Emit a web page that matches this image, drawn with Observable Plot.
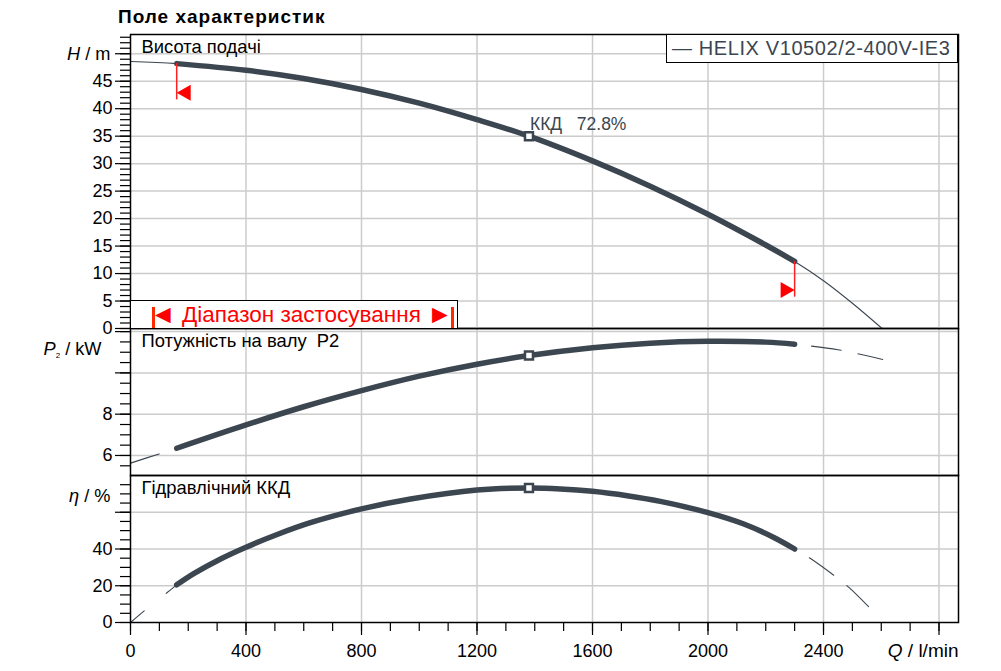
<!DOCTYPE html>
<html><head><meta charset="utf-8">
<script src="https://cdn.jsdelivr.net/npm/d3@7"></script>
<script src="https://cdn.jsdelivr.net/npm/@observablehq/plot@0.6"></script>
<style>
body{margin:0;background:#fff;font-family:"Liberation Sans",Arial,sans-serif;}
#wrap{position:relative;width:1001px;height:671px;overflow:hidden;background:#fff;}
#wrap svg{position:absolute;left:0;}
.title{position:absolute;left:118px;top:7px;font-weight:bold;font-size:19px;letter-spacing:1px;line-height:1;color:#000;z-index:5;white-space:nowrap;}
.legend{position:absolute;left:666px;top:34px;width:292px;height:29px;box-sizing:border-box;border:1.5px solid #000;background:#fff;z-index:5;color:#3c4650;font-size:20px;letter-spacing:0.6px;line-height:27px;padding-left:5px;white-space:nowrap;}
.range{position:absolute;left:130px;top:300px;width:328px;height:29px;box-sizing:border-box;border:1.5px solid #000;background:#fff;z-index:5;}
.range .bar{position:absolute;top:6px;width:2.5px;height:21px;background:#ff2a00;}
.range .txt{position:absolute;left:19px;top:2px;color:#ff0000;font-size:22.5px;line-height:24px;white-space:pre;}
.range .txt .arr{font-size:26px;line-height:0;vertical-align:-1px;}
</style>
</head><body>
<div id="wrap"></div>
<script>
// ---------- data ----------
const chartTitle = "Поле характеристик";
const legendLabel = "— HELIX V10502/2-400V-IE3";
const rangeArrows = ["◄", "►"];
const rangeLabel = "Діапазон застосування";
const panelLabels = ["Висота подачі", "Потужність на валу  P2", "Гідравлічний ККД"];
const bepLabel = "ККД   72.8%";

// Head curve H (m) vs Q (l/min)
const hQ = [0, 160, 400, 600, 800, 1000, 1200, 1380, 1600, 1800, 2000, 2200, 2300, 2400, 2500, 2603];
const hH = [48.6, 48.2, 47.0, 45.5, 43.5, 41.0, 38.0, 35.0, 30.5, 25.9, 20.8, 15.2, 12.2, 8.7, 4.6, 0];

// Shaft power P2 (kW)
const pQ = [0, 100, 160, 400, 600, 800, 1000, 1200, 1380, 1600, 1800, 2000, 2200, 2300, 2450, 2605];
const pP = [5.63, 6.08, 6.35, 7.48, 8.36, 9.14, 9.84, 10.42, 10.84, 11.22, 11.44, 11.53, 11.49, 11.39, 11.12, 10.65];

// Hydraulic efficiency (%)
const eQ = [0, 48, 127, 160, 219, 312, 400, 508, 623, 800, 970, 1200, 1380, 1489, 1600, 1720, 1835, 2000, 2124, 2228, 2300, 2355, 2442, 2488, 2563];
const eE = [0, 6.4, 16.3, 20.5, 26.6, 34.6, 41.0, 47.9, 54.3, 61.8, 67.2, 72.1, 73.2, 72.7, 71.4, 69.0, 65.9, 59.8, 53.6, 46.3, 40.0, 34.8, 24.9, 19.1, 7.5];

// Operating range and best efficiency point
const rangeQ = [160, 2300];
const markerTop = [48.2, 12.2];
const markerBottom = [41.6, 5.7];
const markerArrow = [42.9, 7.0];
const bepQ = 1380, bepH = 35.0, bepP = 10.84, bepE = 73.2;

// Ticks
const xMajor = [0, 400, 800, 1200, 1600, 2000, 2400, 2800];
const xMinor = d3.range(0, 2801, 100);
const hMajor = [0, 5, 10, 15, 20, 25, 30, 35, 40, 45, 50];
const hMinor = d3.range(0, 54, 1);
const pMajor = [6, 8, 10, 12];
const pLabelled = [6, 8];
const pMinor = d3.range(5.5, 12.1, 0.5);
const eMajor = [0, 20, 40, 60];
const eLabelled = [0, 20, 40];
const eMinor = d3.range(0, 80, 5);

// ---------- helpers ----------
const curveColor = "#3c4650";
const gridColor = "#cccccc";
const font = '"Liberation Sans", Arial, sans-serif';
const xDomain = [0, 2867.5];
const rows = (qs, vs) => qs.map((q, i) => ({q, v: vs[i]}));
const [qLo, qHi] = rangeQ;
const inRange = d => d.q >= qLo && d.q <= qHi;
const H = rows(hQ, hH), P = rows(pQ, pP), E = rows(eQ, eE);
const markers = rangeQ.map((q, i) => ({q, top: markerTop[i], bottom: markerBottom[i], arrow: markerArrow[i]}));
const leftTri = {draw(ctx){ctx.moveTo(0,0);ctx.lineTo(14,-8);ctx.lineTo(14,8);ctx.closePath();}};
const rightTri = {draw(ctx){ctx.moveTo(0,0);ctx.lineTo(-14,-8);ctx.lineTo(-14,8);ctx.closePath();}};

const common = {
  width: 1001, marginLeft: 130, marginRight: 43,
  style: {fontFamily: font, fontSize: "18px", color: "#000", background: "transparent", overflow: "visible"}
};
const gridMarks = (yGrid) => [
  Plot.gridX(xMajor.slice(1), {stroke: gridColor, strokeOpacity: 1, strokeWidth: 1.5}),
  Plot.gridY(yGrid, {stroke: gridColor, strokeOpacity: 1, strokeWidth: 1.5})
];
const yAxes = (minor, major, labelled) => [
  Plot.axisY(minor, {tickSize: 10, tickFormat: () => "", label: null, strokeWidth: 1.2}),
  Plot.axisY(major, {tickSize: 15, tickPadding: 3, label: null, strokeWidth: 1.2, fontSize: 18,
    tickFormat: d => labelled.includes(d) ? String(d) : ""})
];
const panelText = (t) => Plot.text([t], {text: d => d, frameAnchor: "top-left", dx: 11, dy: 5,
  lineAnchor: "top", textAnchor: "start", fill: "#000", fontSize: 18.4});

// ---------- panel 1: head ----------
const p1 = Plot.plot({
  ...common, height: 328, marginTop: 34, marginBottom: 0,
  x: {domain: xDomain, axis: null, label: null},
  y: {domain: [0, 53.5], label: null},
  marks: [
    ...gridMarks(hMajor.slice(1)),
    ...yAxes(hMinor, hMajor, hMajor.slice(0, -1)),
    Plot.line(H, {x: "q", y: "v", stroke: curveColor, strokeWidth: 1.1, curve: "catmull-rom"}),
    Plot.line(H.filter(inRange), {x: "q", y: "v", stroke: curveColor, strokeWidth: 5.5, curve: "catmull-rom", strokeLinecap: "round"}),
    Plot.ruleX(markers, {x: "q", y1: "top", y2: "bottom", stroke: "#ff2020", strokeWidth: 1.5}),
    Plot.dot(markers.slice(0, 1), {x: "q", y: "arrow", symbol: leftTri, fill: "#ff0000", stroke: "none"}),
    Plot.dot(markers.slice(1), {x: "q", y: "arrow", symbol: rightTri, fill: "#ff0000", stroke: "none"}),
    Plot.dot([{q: bepQ, v: bepH}], {x: "q", y: "v", symbol: "square", r: 4.5, fill: "white", stroke: curveColor, strokeWidth: 2.5}),
    Plot.text([{q: bepQ, v: bepH}], {x: "q", y: "v", text: () => bepLabel, textAnchor: "start", lineAnchor: "bottom", dx: 1, dy: -6, fill: curveColor, fontSize: 17.5}),
    panelText(panelLabels[0]),
    Plot.text(["H / m"], {text: d => d, frameAnchor: "left", y: [50], textAnchor: "end", dx: -20, fill: "#000", fontSize: 18.2}),
    Plot.frame({stroke: "#000", strokeWidth: 1.5})
  ]
});

// ---------- panel 2: power ----------
const p2 = Plot.plot({
  ...common, height: 147, marginTop: 0, marginBottom: 0,
  x: {domain: xDomain, axis: null, label: null},
  y: {domain: [5.03, 12.15], label: null},
  marks: [
    ...gridMarks(pMajor),
    ...yAxes(pMinor, pMajor, pLabelled),
    Plot.line(P.filter(d => d.q <= qLo), {x: "q", y: "v", stroke: curveColor, strokeWidth: 1.1, strokeDasharray: "30,17", curve: "catmull-rom"}),
    Plot.line(P.filter(d => d.q >= qHi), {x: "q", y: "v", stroke: curveColor, strokeWidth: 1.1, strokeDasharray: "30,17", strokeDashoffset: 30, curve: "catmull-rom"}),
    Plot.line(P.filter(inRange), {x: "q", y: "v", stroke: curveColor, strokeWidth: 5.5, curve: "catmull-rom", strokeLinecap: "round"}),
    Plot.dot([{q: bepQ, v: bepP}], {x: "q", y: "v", symbol: "square", r: 4.5, fill: "white", stroke: curveColor, strokeWidth: 2.5}),
    panelText(panelLabels[1]),
    Plot.text(["P2 / kW"], {text: d => d, frameAnchor: "left", y: [11.17], textAnchor: "end", dx: -29, fill: "#000", fontSize: 18.2}),
    Plot.frame({stroke: "#000", strokeWidth: 1.5})
  ]
});

// ---------- panel 3: efficiency ----------
const p3 = Plot.plot({
  ...common, height: 196, marginTop: 0, marginBottom: 49,
  x: {domain: xDomain, label: null},
  y: {domain: [0, 80], label: null},
  marks: [
    ...gridMarks(eMajor.slice(1)),
    ...yAxes(eMinor, eMajor, eLabelled),
    Plot.axisX(xMinor, {tickSize: 9, tickFormat: () => "", label: null, strokeWidth: 1.2}),
    Plot.axisX(xMajor, {tickSize: 13, tickPadding: 9, label: null, strokeWidth: 1.2, fontSize: 18,
      tickFormat: d => d <= 2400 ? String(d) : ""}),
    Plot.line(E.filter(d => d.q <= qLo), {x: "q", y: "v", stroke: curveColor, strokeWidth: 1.1, strokeDasharray: "18,28", curve: "catmull-rom"}),
    Plot.line(E.filter(d => d.q >= qHi), {x: "q", y: "v", stroke: curveColor, strokeWidth: 1.1, strokeDasharray: "30,17", strokeDashoffset: 30, curve: "catmull-rom"}),
    Plot.line(E.filter(inRange), {x: "q", y: "v", stroke: curveColor, strokeWidth: 5.5, curve: "catmull-rom", strokeLinecap: "round"}),
    Plot.dot([{q: bepQ, v: bepE}], {x: "q", y: "v", symbol: "square", r: 4.5, fill: "white", stroke: curveColor, strokeWidth: 2.5}),
    panelText(panelLabels[2]),
    Plot.text(["η / %"], {text: d => d, frameAnchor: "left", y: [69], textAnchor: "end", dx: -20, fill: "#000", fontSize: 18.2}),
    Plot.text(["Q / l/min"], {text: d => d, frameAnchor: "bottom-right", dy: 34, textAnchor: "end", fill: "#000", fontSize: 19}),
    Plot.frame({stroke: "#000", strokeWidth: 1.5})
  ]
});

// ---------- assemble ----------
const wrap = document.getElementById("wrap");
p1.style.top = "0px"; p2.style.top = "328px"; p3.style.top = "475px";
wrap.append(p3, p2, p1);

function relabel(svg, plain, html) {
  d3.select(svg).selectAll("text").filter(function () { return this.textContent === plain; }).html(html);
}
relabel(p1, "H / m", '<tspan font-style="italic">H</tspan> / m');
relabel(p2, "P2 / kW", '<tspan font-style="italic">P</tspan><tspan font-size="8" dy="3">2</tspan><tspan dy="-3"> / kW</tspan>');
relabel(p3, "η / %", '<tspan font-style="italic">η</tspan> / %');
relabel(p3, "Q / l/min", '<tspan font-style="italic">Q</tspan> / l/min');

const title = document.createElement("div");
title.className = "title"; title.textContent = chartTitle; wrap.append(title);
const legend = document.createElement("div");
legend.className = "legend"; legend.textContent = legendLabel; wrap.append(legend);
const range = document.createElement("div");
range.className = "range";
range.innerHTML = '<div class="bar" style="left:21px"></div><div class="bar" style="left:320px"></div><div class="txt"><span class="arr"></span> <span class="lbl"></span> <span class="arr"></span></div>';
const arrs = range.querySelectorAll(".arr");
arrs[0].textContent = rangeArrows[0];
arrs[1].textContent = rangeArrows[1];
range.querySelector(".lbl").textContent = rangeLabel;
wrap.append(range);
</script>
</body></html>
